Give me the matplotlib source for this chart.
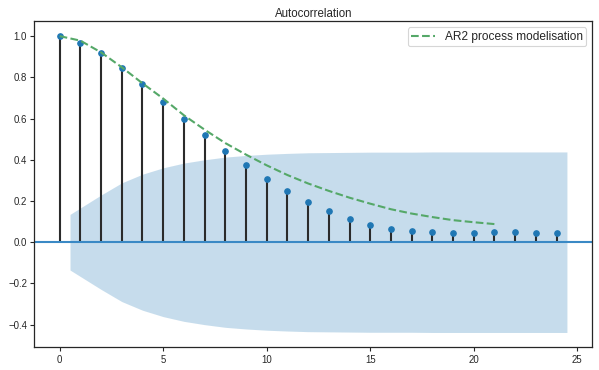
import numpy as np
import matplotlib
matplotlib.use("Agg")
import matplotlib.pyplot as plt

# ---- data ----
lags = list(range(25))
acf_values = [1.000, 0.969, 0.917, 0.844, 0.767, 0.682, 0.600, 0.522, 0.444,
              0.373, 0.308, 0.250, 0.196, 0.152, 0.113, 0.084, 0.065, 0.055,
              0.050, 0.045, 0.045, 0.050, 0.050, 0.045, 0.045]
# half-width of confidence band for lags 1..24
conf_halfwidth = [0.135, 0.229, 0.288, 0.330, 0.361, 0.384, 0.400, 0.413,
                  0.421, 0.427, 0.431, 0.434, 0.435, 0.436, 0.437, 0.437,
                  0.437, 0.438, 0.438, 0.438, 0.438, 0.438, 0.438, 0.438]
ar2_lags = list(range(22))
ar2_values = [1.000, 0.978, 0.921, 0.849, 0.771, 0.697, 0.616, 0.546, 0.481,
              0.425, 0.373, 0.326, 0.285, 0.249, 0.216, 0.187, 0.160, 0.139,
              0.122, 0.107, 0.097, 0.088]
title_text = "Autocorrelation"
legend_label = "AR2 process modelisation"

plt.rcParams['font.family'] = ['Liberation Sans', 'DejaVu Sans']
text_color = '#262626'

fig = plt.figure(figsize=(5.99, 3.70), dpi=100)
ax = fig.add_axes([34.3 / 599, 1 - 347.3 / 370, (592.3 - 34.3) / 599, (347.3 - 21.3) / 370])

ax.vlines(lags, 0, acf_values, colors='#2b2b2b', linewidth=1.5, zorder=2)
ax.axhline(0, color='#3a89c5', linewidth=1.5, zorder=2)
ax.plot(lags, acf_values, linestyle='None', marker='o', markersize=3.8,
        color='#1f77b4', zorder=3)

band_x = np.array(lags[1:], dtype=float)
band_x[0] -= 0.5
band_x[-1] += 0.5
hw = np.array(conf_halfwidth)
ax.fill_between(band_x, -hw, hw, color='#1f77b4', alpha=0.25, linewidth=0, zorder=1)

ax.plot(ar2_lags, ar2_values, linestyle='--', color='#55a868', linewidth=1.5,
        label=legend_label, zorder=4)

ax.set_title(title_text, fontsize=8.3, color=text_color, pad=2.9)
ax.set_yticks([-0.4, -0.2, 0.0, 0.2, 0.4, 0.6, 0.8, 1.0])
ax.set_xticks([0, 5, 10, 15, 20, 25])
ax.tick_params(axis='both', labelsize=6.9, colors=text_color, length=2.6,
               width=0.8, pad=2.6, direction='out')
for sp in ax.spines.values():
    sp.set_color(text_color)
    sp.set_linewidth(0.9)

leg = ax.legend(loc='upper right', fontsize=8.6, frameon=True, fancybox=True,
                borderpad=0.3, borderaxespad=0.5)
leg.get_frame().set_edgecolor('#cccccc')
leg.get_frame().set_linewidth(0.8)
for t in leg.get_texts():
    t.set_color(text_color)

fig.savefig('out.png', dpi=100)
